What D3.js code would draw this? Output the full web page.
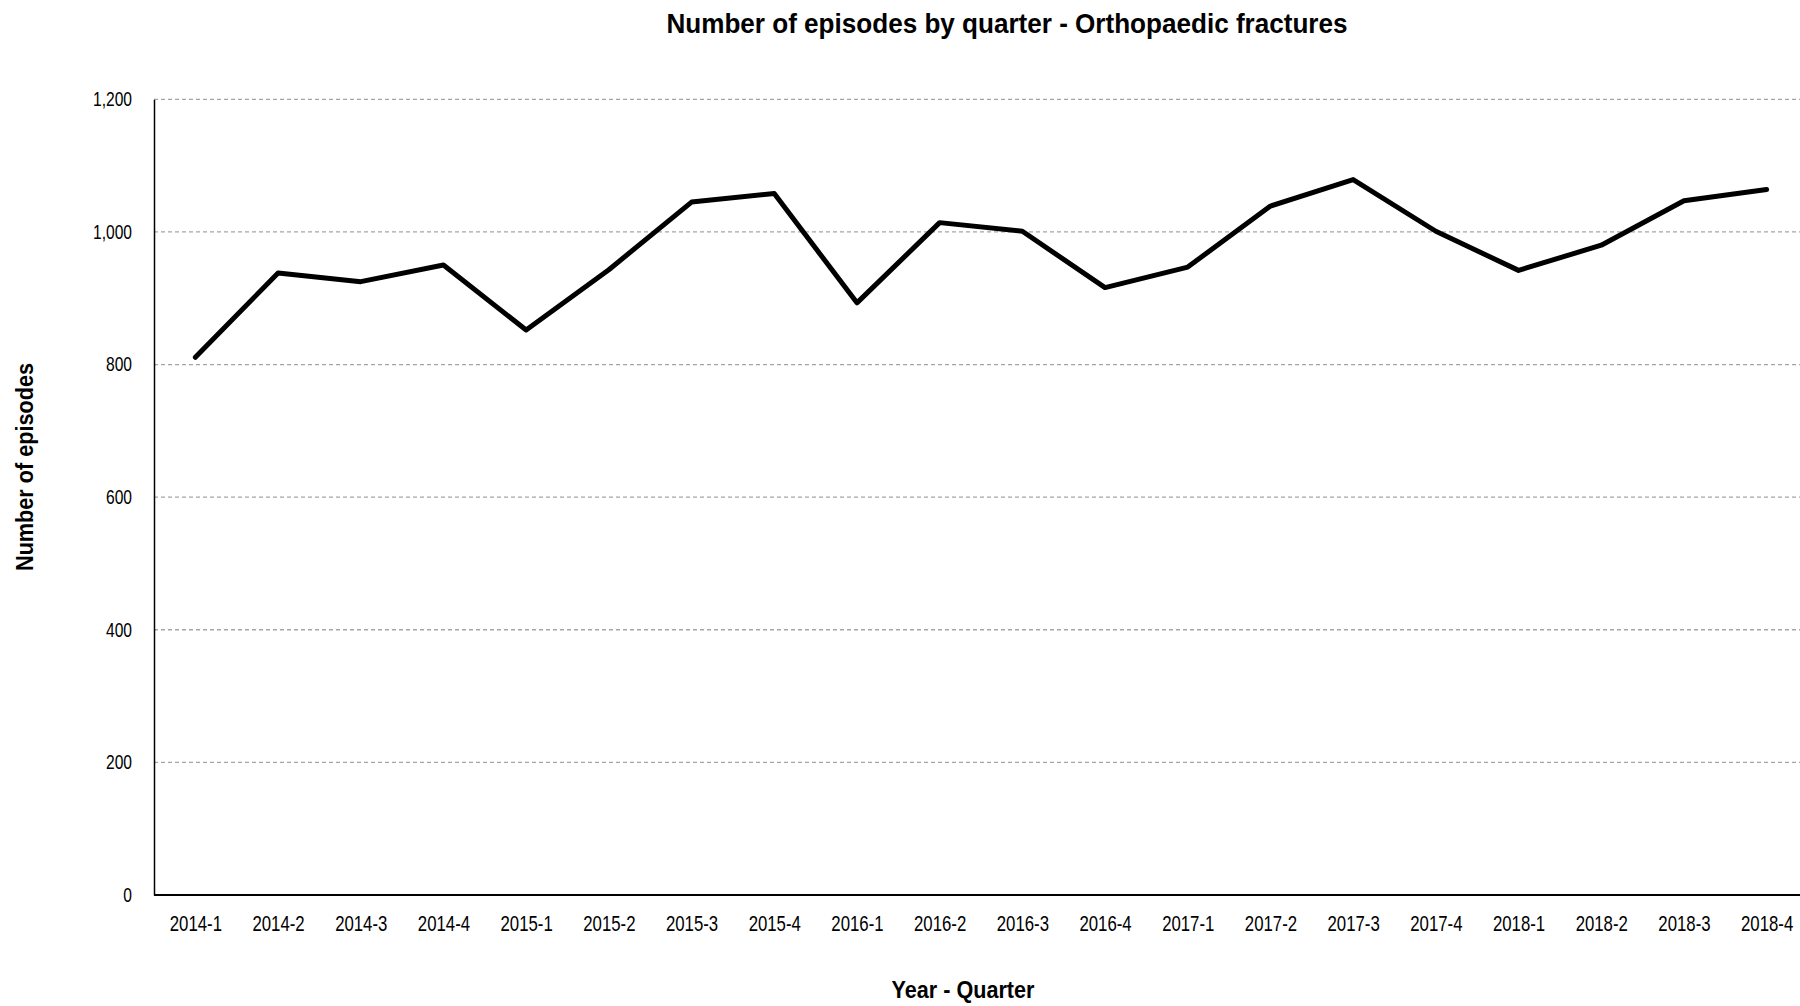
<!DOCTYPE html>
<html>
<head>
<meta charset="utf-8">
<script src="https://cdn.jsdelivr.net/npm/d3@7"></script>
<style>
  html, body { margin: 0; padding: 0; background: #fff; }
  svg { display: block; }
  text { font-family: "Liberation Sans Narrow", "Arial Narrow", "Liberation Sans", Arial, sans-serif; fill: #000; }
</style>
</head>
<body>
<svg id="chart" width="1800" height="1006"></svg>
<script>
const quarters = ["2014-1","2014-2","2014-3","2014-4","2015-1","2015-2","2015-3","2015-4",
  "2016-1","2016-2","2016-3","2016-4","2017-1","2017-2","2017-3","2017-4",
  "2018-1","2018-2","2018-3","2018-4"];
const episodes = [811, 938, 925, 950, 852, 943, 1045, 1058,
  893, 1014, 1001, 916, 947, 1039, 1079, 1001,
  942, 980, 1047, 1064];
const yTicks = [0, 200, 400, 600, 800, 1000, 1200];
const titleText = "Number of episodes by quarter - Orthopaedic fractures";
const xTitle = "Year - Quarter";
const yTitle = "Number of episodes";

const W = 1800, H = 1006;
const m = { left: 154, top: 99.3, right: 1808, bottom: 895 };
const NARROW = 0.78;

const svg = d3.select("#chart");

const x = d3.scalePoint().domain(quarters).range([m.left, m.right]).padding(0.5);
const y = d3.scaleLinear().domain([0, 1200]).range([m.bottom, m.top]);

function condense(sel, k) {
  sel.each(function () {
    const len = this.getComputedTextLength();
    d3.select(this).attr("textLength", len * k).attr("lengthAdjust", "spacingAndGlyphs");
  });
}
function fitWidth(sel, w) {
  sel.attr("textLength", w).attr("lengthAdjust", "spacingAndGlyphs");
}

// gridlines
svg.append("g").selectAll("line").data(yTicks.filter(d => d > 0)).join("line")
  .attr("x1", m.left).attr("x2", W)
  .attr("y1", d => y(d)).attr("y2", d => y(d))
  .attr("stroke", "#a6a6a6").attr("stroke-width", 1.3)
  .attr("stroke-dasharray", "4,3");

// y axis
const yAxis = d3.axisLeft(y).tickValues(yTicks).tickFormat(d3.format(",")).tickSize(0).tickPadding(22);
const gy = svg.append("g").attr("transform", `translate(${m.left},0)`).call(yAxis);
gy.select(".domain").attr("stroke", "#000").attr("stroke-width", 1.5);
gy.selectAll("text").attr("font-size", 20).attr("font-family", null).call(condense, NARROW);

// x axis
const xAxis = d3.axisBottom(x).tickSize(0).tickPadding(0);
const gx = svg.append("g").attr("transform", `translate(0,${m.bottom})`).call(xAxis);
gx.select(".domain").attr("d", `M${m.left},0H${W}`).attr("stroke", "#000").attr("stroke-width", 1.8);
gx.selectAll("text").attr("font-size", 21.5).attr("font-family", null)
  .attr("y", 35.7).attr("dy", 0).call(condense, NARROW);

// line
const line = d3.line().x((d, i) => x(quarters[i])).y(d => y(d));
svg.append("path").datum(episodes)
  .attr("d", line)
  .attr("fill", "none").attr("stroke", "#000").attr("stroke-width", 5)
  .attr("stroke-linejoin", "round").attr("stroke-linecap", "round");

// titles
svg.append("text").attr("x", 1007).attr("y", 33.3).attr("text-anchor", "middle")
  .attr("font-size", 28).attr("font-weight", "bold").text(titleText).call(fitWidth, 681);
svg.append("text").attr("x", 963).attr("y", 998).attr("text-anchor", "middle")
  .attr("font-size", 23).attr("font-weight", "bold").text(xTitle).call(fitWidth, 143);
svg.append("text").attr("transform", "translate(33,467) rotate(-90)").attr("text-anchor", "middle")
  .attr("font-size", 24).attr("font-weight", "bold").text(yTitle).call(fitWidth, 208);
</script>
</body>
</html>
